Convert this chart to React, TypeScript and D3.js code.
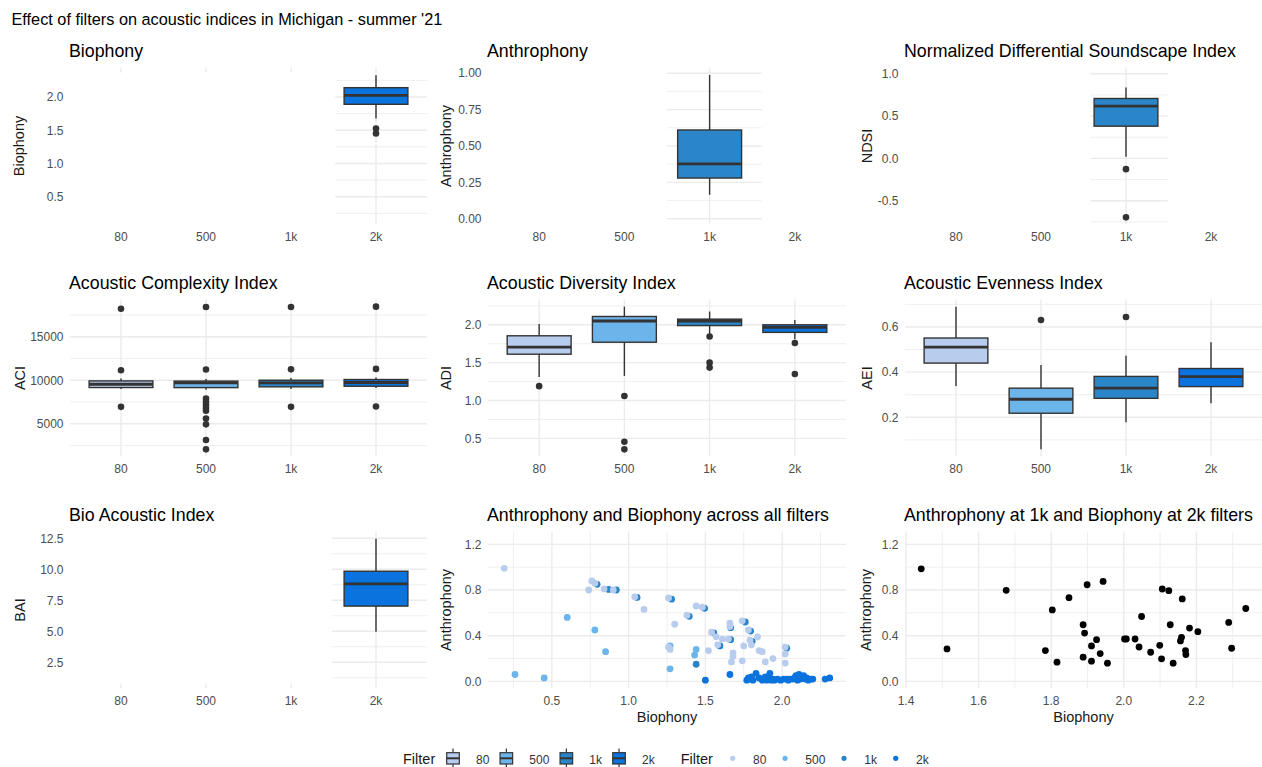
import React from "react";
import * as d3 from "d3";

// ---------------- DATA ----------------
const FILTERS = ["80", "500", "1k", "2k"];

type Box = { f: string; lo: number; q1: number; med: number; q3: number; hi: number; out: number[] };

const biophonyBoxes: Box[] = [
  { f: "2k", lo: 1.675, q1: 1.89, med: 2.025, q3: 2.14, hi: 2.325, out: [1.525, 1.45] },
];
const biophonyRange = [0.19, 2.336];
const biophonyTicks = [0.5, 1.0, 1.5, 2.0];
const biophonyLabels = ["0.5", "1.0", "1.5", "2.0"];

const anthrophonyBoxes: Box[] = [
  { f: "1k", lo: 0.165, q1: 0.28, med: 0.377, q3: 0.61, hi: 0.988, out: [] },
];
const anthrophonyRange = [0.01, 0.99];
const anthrophonyTicks = [0, 0.25, 0.5, 0.75, 1.0];
const anthrophonyLabels = ["0.00", "0.25", "0.50", "0.75", "1.00"];

const ndsiBoxes: Box[] = [
  { f: "1k", lo: 0.02, q1: 0.381, med: 0.617, q3: 0.708, hi: 0.838, out: [-0.127, -0.697] },
];
const ndsiRange = [-0.697, 0.99];
const ndsiTicks = [-0.5, 0, 0.5, 1.0];
const ndsiLabels = ["-0.5", "0.0", "0.5", "1.0"];

const aciBoxes: Box[] = [
  { f: "80", lo: 9000, q1: 9160, med: 9540, q3: 9920, hi: 10190, out: [18210, 11145, 6940] },
  { f: "500", lo: 8900, q1: 9150, med: 9700, q3: 9900, hi: 10150, out: [18400, 11225, 7900, 7500, 7150, 6800, 6500, 5610, 4930, 3130, 2060] },
  { f: "1k", lo: 9000, q1: 9240, med: 9700, q3: 10000, hi: 10250, out: [18400, 11250, 6940] },
  { f: "2k", lo: 9100, q1: 9310, med: 9740, q3: 10080, hi: 10300, out: [18450, 11300, 6980] },
];
const aciRange = [2060, 18450];
const aciTicks = [5000, 10000, 15000];
const aciLabels = ["5000", "10000", "15000"];

const adiBoxes: Box[] = [
  { f: "80", lo: 1.31, q1: 1.612, med: 1.705, q3: 1.855, hi: 2.01, out: [1.19] },
  { f: "500", lo: 1.325, q1: 1.77, med: 2.05, q3: 2.11, hi: 2.24, out: [1.06, 0.455, 0.355] },
  { f: "1k", lo: 1.88, q1: 1.99, med: 2.05, q3: 2.075, hi: 2.175, out: [1.845, 1.5, 1.435] },
  { f: "2k", lo: 1.81, q1: 1.9, med: 1.965, q3: 2.0, hi: 2.065, out: [1.76, 1.35] },
];
const adiRange = [0.355, 2.24];
const adiTicks = [0.5, 1.0, 1.5, 2.0];
const adiLabels = ["0.5", "1.0", "1.5", "2.0"];

const aeiBoxes: Box[] = [
  { f: "80", lo: 0.339, q1: 0.44, med: 0.511, q3: 0.551, hi: 0.69, out: [] },
  { f: "500", lo: 0.058, q1: 0.218, med: 0.28, q3: 0.329, hi: 0.432, out: [0.631] },
  { f: "1k", lo: 0.178, q1: 0.284, med: 0.329, q3: 0.381, hi: 0.472, out: [0.644] },
  { f: "2k", lo: 0.262, q1: 0.336, med: 0.38, q3: 0.416, hi: 0.532, out: [] },
];
const aeiRange = [0.058, 0.69];
const aeiTicks = [0.2, 0.4, 0.6];
const aeiLabels = ["0.2", "0.4", "0.6"];

const baiBoxes: Box[] = [
  { f: "2k", lo: 4.96, q1: 7.03, med: 8.82, q3: 9.84, hi: 12.47, out: [] },
];
const baiRange = [0.96, 12.47];
const baiTicks = [2.5, 5.0, 7.5, 10.0, 12.5];
const baiLabels = ["2.5", "5.0", "7.5", "10.0", "12.5"];

// scatter: Anthrophony vs Biophony, all filters
const scatter80 = [
  [0.19, 0.99], [0.74, 0.8], [0.76, 0.88], [0.78, 0.86], [0.84, 0.81], [0.9, 0.8],
  [1.04, 0.74], [1.1, 0.63], [1.26, 0.73], [1.26, 0.3], [1.27, 0.28], [1.3, 0.5],
  [1.38, 0.58], [1.44, 0.66], [1.48, 0.65], [1.52, 0.27], [1.54, 0.43], [1.57, 0.39],
  [1.58, 0.32], [1.61, 0.37], [1.65, 0.37], [1.66, 0.51], [1.66, 0.48], [1.67, 0.17],
  [1.68, 0.25], [1.68, 0.22], [1.74, 0.53], [1.74, 0.18], [1.75, 0.31], [1.78, 0.45],
  [1.79, 0.36], [1.8, 0.32], [1.84, 0.39], [1.85, 0.27], [1.87, 0.26], [1.89, 0.17],
  [1.94, 0.2], [2.02, 0.3], [2.02, 0.24], [2.02, 0.16],
];
const scatter500 = [
  [0.26, 0.06], [0.45, 0.03], [0.6, 0.56], [0.78, 0.45], [0.85, 0.26],
  [1.27, 0.11], [1.43, 0.23], [1.44, 0.28], [1.27, 0.31],
];
const scatter1k = [
  [0.795, 0.85], [0.87, 0.805], [0.92, 0.8], [1.055, 0.735], [1.28, 0.72], [1.395, 0.57],
  [1.495, 0.64], [1.555, 0.425], [1.595, 0.31], [1.665, 0.47], [1.665, 0.365], [1.76, 0.52],
  [1.795, 0.44], [1.805, 0.35], [2.03, 0.29], [1.44, 0.15],
];
const scatter2k = [
  [1.5, 0.01], [1.66, 0.06], [1.77, 0.01], [1.78, 0.03], [1.79, 0.02], [1.8, 0.04],
  [1.81, 0.01], [1.83, 0.07], [1.85, 0.03], [1.87, 0.01], [1.88, 0.02], [1.89, 0.04],
  [1.9, 0.01], [1.91, 0.03], [1.92, 0.07], [1.93, 0.01], [1.94, 0.02], [1.95, 0.01],
  [1.97, 0.02], [1.99, 0.01], [2.01, 0.02], [2.03, 0.02], [2.04, 0.01], [2.05, 0.02],
  [2.07, 0.02], [2.08, 0.03], [2.09, 0.05], [2.1, 0.01], [2.11, 0.06], [2.12, 0.02],
  [2.13, 0.04], [2.14, 0.05], [2.15, 0.02], [2.16, 0.03], [2.17, 0.01], [2.19, 0.02],
  [2.2, 0.02], [2.28, 0.02], [2.31, 0.03],
];
// scatter: Anthrophony at 1k vs Biophony at 2k
const scatterPair = [
  [1.442, 0.986], [1.513, 0.284], [1.676, 0.797], [1.784, 0.27], [1.803, 0.626],
  [1.816, 0.168], [1.849, 0.733], [1.888, 0.496], [1.892, 0.423], [1.888, 0.212],
  [1.899, 0.846], [1.911, 0.31], [1.911, 0.177], [1.925, 0.365], [1.935, 0.243],
  [1.943, 0.875], [1.955, 0.159], [2.002, 0.371], [2.007, 0.371], [2.031, 0.371],
  [2.042, 0.301], [2.049, 0.568], [2.074, 0.255], [2.099, 0.316], [2.106, 0.809],
  [2.124, 0.794], [2.104, 0.197], [2.128, 0.496], [2.136, 0.159], [2.156, 0.354],
  [2.159, 0.386], [2.161, 0.722], [2.17, 0.27], [2.171, 0.235], [2.181, 0.467],
  [2.204, 0.435], [2.289, 0.516], [2.297, 0.29], [2.336, 0.638],
];
const scatterYLimits = [0, 1.25];
const scatterYTicks = [0, 0.4, 0.8, 1.2];
const scatterYLabels = ["0.0", "0.4", "0.8", "1.2"];
const scatter2XTicks = [0.5, 1.0, 1.5, 2.0];
const scatter2XLabels = ["0.5", "1.0", "1.5", "2.0"];
const scatter3XTicks = [1.4, 1.6, 1.8, 2.0, 2.2];
const scatter3XLabels = ["1.4", "1.6", "1.8", "2.0", "2.2"];

// ---------------- STYLE / LAYOUT ----------------
const FILL: Record<string, string> = { "80": "#b8cdee", "500": "#6cb5ea", "1k": "#2a86c9", "2k": "#0a73dd" };
const ROWS = [[67.5, 224.5], [299.5, 456.5], [531.5, 688.5]];
const COLS = [[70, 427], [488, 846], [905, 1262]];
const GRID = "#ebebeb";
const FONT = "'Liberation Sans', Arial, Helvetica, sans-serif";
const TICK_COLOR = "#4d4d4d";
const INK = "#333333";

function minorTicks(major: number[], lo: number, hi: number) {
  const step = major[1] - major[0];
  const out: number[] = [];
  for (let v = major[0] - step / 2; v <= hi + 1e-9; v += step) {
    if (v >= lo && v <= hi) out.push(v);
  }
  return out;
}

type BoxCfg = {
  title: string; ylab: string; boxes: Box[]; range: number[]; ticks: number[]; labels: string[];
  row: number; col: number; ylabX: number; vis?: number[]; stub?: "top" | "bottom";
};

function BoxPanel({ c }: { c: BoxCfg }) {
  const [x0, x1] = COLS[c.col];
  const [y0, y1] = ROWS[c.row];
  const pad = (c.range[1] - c.range[0]) * 0.05;
  const dom = [c.range[0] - pad, c.range[1] + pad];
  const y = d3.scaleLinear().domain(dom).range([y1, y0]);
  const x = d3.scaleLinear().domain([0.4, 4.6]).range([x0, x1]);
  const minors = minorTicks(c.ticks, dom[0], dom[1]);
  const hx0 = c.vis ? x(c.vis[0]) : x0;
  const hx1 = c.vis ? x(c.vis[1]) : x1;
  const boxCats = c.boxes.map((b) => b.f);
  const half = 0.375;
  return (
    <g>
      <text x={x0 - 1} y={ROWS[c.row][0] - 11} fontSize={17.8} fill="#000">{c.title}</text>
      {minors.map((v, i) => (
        <line key={"mi" + i} x1={hx0} x2={hx1} y1={y(v)} y2={y(v)} stroke={GRID} strokeWidth={0.8} />
      ))}
      {c.ticks.map((v, i) => (
        <line key={"ma" + i} x1={hx0} x2={hx1} y1={y(v)} y2={y(v)} stroke={GRID} strokeWidth={1.4} />
      ))}
      {FILTERS.map((f, i) => {
        const px = x(i + 1);
        if (!c.vis || boxCats.includes(f)) {
          return <line key={"v" + f} x1={px} x2={px} y1={y0} y2={y1} stroke={GRID} strokeWidth={1.4} />;
        }
        if (c.stub === "top") return <line key={"v" + f} x1={px} x2={px} y1={y0} y2={y0 + 5} stroke={GRID} strokeWidth={1.4} />;
        if (c.stub === "bottom") return <line key={"v" + f} x1={px} x2={px} y1={y1 - 5} y2={y1} stroke={GRID} strokeWidth={1.4} />;
        return null;
      })}
      {c.boxes.map((b) => {
        const p = FILTERS.indexOf(b.f) + 1;
        const cx = x(p);
        return (
          <g key={b.f}>
            <line x1={cx} x2={cx} y1={y(b.hi)} y2={y(b.q3)} stroke={INK} strokeWidth={1.4} />
            <line x1={cx} x2={cx} y1={y(b.q1)} y2={y(b.lo)} stroke={INK} strokeWidth={1.4} />
            <rect x={x(p - half)} width={x(p + half) - x(p - half)} y={y(b.q3)} height={y(b.q1) - y(b.q3)}
              fill={FILL[b.f]} stroke={INK} strokeWidth={1.4} />
            <line x1={x(p - half)} x2={x(p + half)} y1={y(b.med)} y2={y(b.med)} stroke={INK} strokeWidth={2.8} />
            {b.out.map((o, j) => (
              <circle key={j} cx={cx} cy={y(o)} r={3.3} fill={INK} />
            ))}
          </g>
        );
      })}
      {c.ticks.map((v, i) => (
        <text key={"yl" + i} x={x0 - 6.5} y={y(v)} dy="0.36em" textAnchor="end" fontSize={12} fill={TICK_COLOR}>{c.labels[i]}</text>
      ))}
      {FILTERS.map((f, i) => (
        <text key={"xl" + f} x={x(i + 1)} y={y1 + 16} textAnchor="middle" fontSize={12} fill={TICK_COLOR}>{f}</text>
      ))}
      <text transform={`translate(${c.ylabX},${(y0 + y1) / 2}) rotate(-90)`} textAnchor="middle" fontSize={14.5} fill="#1a1a1a">{c.ylab}</text>
    </g>
  );
}

type Series = { pts: number[][]; color: string };
type ScatCfg = {
  title: string; series: Series[]; xTicks: number[]; xLabels: string[]; col: number; row: number; ylabX: number;
};

function ScatterPanel({ c }: { c: ScatCfg }) {
  const [x0, x1] = COLS[c.col];
  const [y0, y1] = ROWS[c.row];
  const all = c.series.flatMap((s) => s.pts);
  const ext = d3.extent(all, (d) => d[0]) as [number, number];
  const xp = (ext[1] - ext[0]) * 0.05;
  const xd = [ext[0] - xp, ext[1] + xp];
  const yp = (scatterYLimits[1] - scatterYLimits[0]) * 0.05;
  const yd = [scatterYLimits[0] - yp, scatterYLimits[1] + yp];
  const x = d3.scaleLinear().domain(xd).range([x0, x1]);
  const y = d3.scaleLinear().domain(yd).range([y1, y0]);
  const xMin = minorTicks(c.xTicks, xd[0], xd[1]);
  const yMin = minorTicks(scatterYTicks, yd[0], yd[1]);
  return (
    <g>
      <text x={x0 - 1} y={y0 - 11} fontSize={17.8} fill="#000">{c.title}</text>
      {yMin.map((v, i) => <line key={"ym" + i} x1={x0} x2={x1} y1={y(v)} y2={y(v)} stroke={GRID} strokeWidth={0.8} />)}
      {xMin.map((v, i) => <line key={"xm" + i} x1={x(v)} x2={x(v)} y1={y0} y2={y1} stroke={GRID} strokeWidth={0.8} />)}
      {scatterYTicks.map((v, i) => <line key={"yM" + i} x1={x0} x2={x1} y1={y(v)} y2={y(v)} stroke={GRID} strokeWidth={1.4} />)}
      {c.xTicks.map((v, i) => <line key={"xM" + i} x1={x(v)} x2={x(v)} y1={y0} y2={y1} stroke={GRID} strokeWidth={1.4} />)}
      {c.series.map((s, si) => (
        <g key={si}>
          {s.pts.map((p, i) => <circle key={i} cx={x(p[0])} cy={y(p[1])} r={3.4} fill={s.color} />)}
        </g>
      ))}
      {scatterYTicks.map((v, i) => (
        <text key={"yl" + i} x={x0 - 6.5} y={y(v)} dy="0.36em" textAnchor="end" fontSize={12} fill={TICK_COLOR}>{scatterYLabels[i]}</text>
      ))}
      {c.xTicks.map((v, i) => (
        <text key={"xl" + i} x={x(v)} y={y1 + 16} textAnchor="middle" fontSize={12} fill={TICK_COLOR}>{c.xLabels[i]}</text>
      ))}
      <text x={(x0 + x1) / 2} y={y1 + 33.5} textAnchor="middle" fontSize={14.5} fill="#1a1a1a">Biophony</text>
      <text transform={`translate(${c.ylabX},${(y0 + y1) / 2}) rotate(-90)`} textAnchor="middle" fontSize={14.5} fill="#1a1a1a">Anthrophony</text>
    </g>
  );
}

function textW(s: string) {
  let w = 0;
  for (const ch of s) w += ch === "k" ? 0.5 : 0.556;
  return w * 12;
}

function Legends() {
  const base = 764;
  const mid = 758.3;
  const boxKeys: JSX.Element[] = [];
  let kc = 453;
  FILTERS.forEach((f) => {
    const lx = kc + 23;
    boxKeys.push(
      <g key={"b" + f}>
        <line x1={kc} x2={kc} y1={748.5} y2={768} stroke={INK} strokeWidth={1.2} />
        <rect x={kc - 6.3} y={752.7} width={12.6} height={11.3} fill={FILL[f]} stroke={INK} strokeWidth={1.2} />
        <line x1={kc - 6.3} x2={kc + 6.3} y1={mid} y2={mid} stroke={INK} strokeWidth={2} />
        <text x={lx} y={base - 0.5} fontSize={12} fill="#333">{f}</text>
      </g>
    );
    kc = lx + textW(f) + 17;
  });
  const dotKeys: JSX.Element[] = [];
  let dc = 732.7;
  FILTERS.forEach((f) => {
    const lx = dc + 20.3;
    dotKeys.push(
      <g key={"d" + f}>
        <circle cx={dc} cy={mid} r={2.6} fill={FILL[f]} />
        <text x={lx} y={base - 0.5} fontSize={12} fill="#333">{f}</text>
      </g>
    );
    dc = lx + textW(f) + 18.7;
  });
  return (
    <g>
      <text x={403} y={base} fontSize={14.5} fill="#1a1a1a">Filter</text>
      {boxKeys}
      <text x={680.7} y={base} fontSize={14.5} fill="#1a1a1a">Filter</text>
      {dotKeys}
    </g>
  );
}

const boxPanels: BoxCfg[] = [
  { title: "Biophony", ylab: "Biophony", boxes: biophonyBoxes, range: biophonyRange, ticks: biophonyTicks, labels: biophonyLabels, row: 0, col: 0, ylabX: 23.5, vis: [3.52, 4.6], stub: "top" },
  { title: "Anthrophony", ylab: "Anthrophony", boxes: anthrophonyBoxes, range: anthrophonyRange, ticks: anthrophonyTicks, labels: anthrophonyLabels, row: 0, col: 1, ylabX: 451, vis: [2.5, 3.61] },
  { title: "Normalized Differential Soundscape Index", ylab: "NDSI", boxes: ndsiBoxes, range: ndsiRange, ticks: ndsiTicks, labels: ndsiLabels, row: 0, col: 2, ylabX: 871.5, vis: [2.58, 3.49] },
  { title: "Acoustic Complexity Index", ylab: "ACI", boxes: aciBoxes, range: aciRange, ticks: aciTicks, labels: aciLabels, row: 1, col: 0, ylabX: 24.5 },
  { title: "Acoustic Diversity Index", ylab: "ADI", boxes: adiBoxes, range: adiRange, ticks: adiTicks, labels: adiLabels, row: 1, col: 1, ylabX: 451 },
  { title: "Acoustic Evenness Index", ylab: "AEI", boxes: aeiBoxes, range: aeiRange, ticks: aeiTicks, labels: aeiLabels, row: 1, col: 2, ylabX: 871.5 },
  { title: "Bio Acoustic Index", ylab: "BAI", boxes: baiBoxes, range: baiRange, ticks: baiTicks, labels: baiLabels, row: 2, col: 0, ylabX: 24.5, vis: [3.48, 4.6], stub: "bottom" },
];

const scatterPanels: ScatCfg[] = [
  {
    title: "Anthrophony and Biophony across all filters",
    series: [
      { pts: scatter1k, color: FILL["1k"] },
      { pts: scatter500, color: FILL["500"] },
      { pts: scatter80, color: FILL["80"] },
      { pts: scatter2k, color: FILL["2k"] },
    ],
    xTicks: scatter2XTicks, xLabels: scatter2XLabels, row: 2, col: 1, ylabX: 451,
  },
  {
    title: "Anthrophony at 1k and Biophony at 2k filters",
    series: [{ pts: scatterPair, color: "#000000" }],
    xTicks: scatter3XTicks, xLabels: scatter3XLabels, row: 2, col: 2, ylabX: 871,
  },
];

export default function App() {
  return (
    <svg width={1262} height={767} style={{ position: "absolute", left: 0, top: 0, background: "#fff" }}
      fontFamily={FONT}>
      <rect x={0} y={0} width={1262} height={767} fill="#fff" />
      <text x={11.5} y={24.5} fontSize={16.3} fill="#000">Effect of filters on acoustic indices in Michigan - summer '21</text>
      {boxPanels.map((c, i) => <BoxPanel key={i} c={c} />)}
      {scatterPanels.map((c, i) => <ScatterPanel key={i} c={c} />)}
      <Legends />
    </svg>
  );
}
